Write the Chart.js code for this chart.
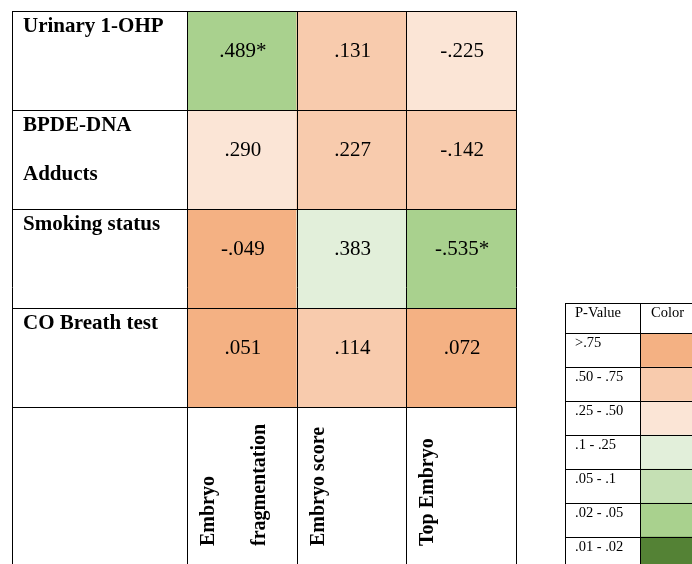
<!DOCTYPE html>
<html lang="en">
<head>
    <meta charset="UTF-8">
    <title>Correlation table</title>
    <script src="https://cdn.jsdelivr.net/npm/chart.js"></script>
    <style>
        body {
            margin: 0;
            padding: 0;
            background-color: #fff;
            overflow: hidden;
        }
        #wrap {
            position: relative;
            width: 692px;
            height: 564px;
            overflow: hidden;
        }
        #mainChart { position: absolute; left: 0; top: 0; }
        #legendChart { position: absolute; left: 565px; top: 303px; }
    </style>
</head>
<body>
<div id="wrap">
    <canvas id="mainChart" width="692" height="564"></canvas>
    <canvas id="legendChart" width="140" height="270"></canvas>
</div>

<script>
    // table data
    const rowLabels = [['Urinary 1-OHP'], ['BPDE-DNA', 'Adducts'], ['Smoking status'], ['CO Breath test']];
    const colLabels = [['Embryo', 'fragmentation'], ['Embryo score'], ['Top Embryo']];
    const corrText = [
        ['.489*', '.131', '-.225'],
        ['.290', '.227', '-.142'],
        ['-.049', '.383', '-.535*'],
        ['.051', '.114', '.072']
    ];
    // p-value class of each cell (index into binLabels)
    const pBin = [
        [5, 1, 2],
        [2, 1, 1],
        [0, 3, 5],
        [0, 1, 0]
    ];
    const binLabels = ['>.75', '.50 - .75', '.25 - .50', '.1 - .25', '.05 - .1', '.02 - .05', '.01 - .02'];
    const binColors = ['#F4B183', '#F8CBAD', '#FBE5D6', '#E2EFDA', '#C5E0B4', '#A9D18E', '#548235'];

    const SERIF = '"Liberation Serif", "Times New Roman", serif';

    // draws borders and all texts of the main table
    const tablePlugin = {
        id: 'tableText',
        afterDraw(chart) {
            const ctx = chart.ctx;
            const area = chart.chartArea;
            const tableLeft = area.left - 175;
            const bottom = chart.height;
            const col0 = chart.getDatasetMeta(0).data;

            // column edges from the bars
            const xs = [tableLeft, area.left];
            col0.forEach(b => xs.push(b.x + b.width / 2));
            // row edges
            const rows = chart.data.datasets.map((d, i) => {
                const b = chart.getDatasetMeta(i).data[0];
                return { top: Math.min(b.y, b.base), bottom: Math.max(b.y, b.base) };
            });

            ctx.save();
            ctx.strokeStyle = '#000';
            ctx.lineWidth = 1;
            ctx.beginPath();
            xs.forEach(x => {
                const px = Math.round(x) + 0.5;
                ctx.moveTo(px, area.top);
                ctx.lineTo(px, bottom);
            });
            const ys = [rows[0].top].concat(rows.map(r => r.bottom));
            ys.forEach(y => {
                const py = Math.round(y) + 0.5;
                ctx.moveTo(tableLeft, py);
                ctx.lineTo(area.right + 1, py);
            });
            ctx.stroke();

            // row labels
            ctx.fillStyle = '#000';
            ctx.textAlign = 'left';
            ctx.textBaseline = 'alphabetic';
            ctx.font = 'bold 21px ' + SERIF;
            rowLabels.forEach((lines, i) => {
                lines.forEach((t, k) => {
                    ctx.fillText(t, tableLeft + 11, rows[i].top + 20.5 + k * 49.5);
                });
            });

            // cell values
            ctx.textAlign = 'center';
            ctx.font = '21px ' + SERIF;
            rows.forEach((r, i) => {
                chart.getDatasetMeta(i).data.forEach((b, j) => {
                    ctx.fillText(corrText[i][j], b.x + 1, r.top + 45.5);
                });
            });

            // rotated column labels
            ctx.textAlign = 'left';
            ctx.font = 'bold 20px ' + SERIF;
            col0.forEach((b, j) => {
                const left = b.x - b.width / 2;
                ctx.save();
                ctx.translate(left + 27, 546);
                ctx.rotate(-Math.PI / 2);
                colLabels[j].forEach((t, k) => ctx.fillText(t, 0, k * 51));
                ctx.restore();
            });
            ctx.restore();
        }
    };

    new Chart(document.getElementById('mainChart'), {
        type: 'bar',
        data: {
            labels: colLabels.map(c => c.join(' ')),
            datasets: rowLabels.map((r, i) => ({
                label: r.join(' '),
                data: colLabels.map(() => 1),
                backgroundColor: pBin[i].map(b => binColors[b]),
                borderWidth: 0,
                barPercentage: 1,
                categoryPercentage: 1
            }))
        },
        options: {
            responsive: false,
            animation: false,
            events: [],
            layout: { padding: { left: 187, right: 176, top: 11, bottom: 157 } },
            plugins: { legend: { display: false }, tooltip: { enabled: false } },
            scales: {
                x: { stacked: true, display: false },
                y: { stacked: true, display: false, min: 0, max: rowLabels.length, reverse: true }
            }
        },
        plugins: [tablePlugin]
    });

    // legend table (p-value -> colour); header row sits in the top padding
    const HEADER_H = 30;
    const legendPlugin = {
        id: 'legendText',
        afterDraw(chart) {
            const ctx = chart.ctx;
            const area = chart.chartArea;
            const bars = chart.getDatasetMeta(0).data;
            ctx.save();
            ctx.strokeStyle = '#000';
            ctx.lineWidth = 1;
            ctx.beginPath();
            ctx.moveTo(0.5, 0);
            ctx.lineTo(0.5, chart.height);
            const dx = Math.round(area.left) + 0.5;
            ctx.moveTo(dx, 0);
            ctx.lineTo(dx, chart.height);
            ctx.moveTo(0, 0.5);
            ctx.lineTo(chart.width, 0.5);
            ctx.moveTo(0, Math.round(area.top) + 0.5);
            ctx.lineTo(chart.width, Math.round(area.top) + 0.5);
            bars.forEach(b => {
                const py = Math.round(b.y + b.height / 2) + 0.5;
                ctx.moveTo(0, py);
                ctx.lineTo(chart.width, py);
            });
            ctx.stroke();

            ctx.fillStyle = '#000';
            ctx.font = '14.5px ' + SERIF;
            ctx.textAlign = 'left';
            ctx.fillText('P-Value', 10, 14);
            ctx.fillText('Color', area.left + 11, 14);
            bars.forEach((b, i) => {
                const top = b.y - b.height / 2;
                ctx.fillText(chart.data.labels[i], 10, top + 14);
            });
            ctx.restore();
        }
    };

    new Chart(document.getElementById('legendChart'), {
        type: 'bar',
        data: {
            labels: binLabels,
            datasets: [{
                label: 'Color',
                data: binLabels.map(() => 1),
                backgroundColor: binColors,
                borderWidth: 0,
                barPercentage: 1,
                categoryPercentage: 1
            }]
        },
        options: {
            indexAxis: 'y',
            responsive: false,
            animation: false,
            events: [],
            layout: { padding: { left: 75, right: 0, top: HEADER_H, bottom: 2 } },
            plugins: { legend: { display: false }, tooltip: { enabled: false } },
            scales: {
                x: { display: false, min: 0, max: 1 },
                y: { display: false }
            }
        },
        plugins: [legendPlugin]
    });
</script>
</body>
</html>
